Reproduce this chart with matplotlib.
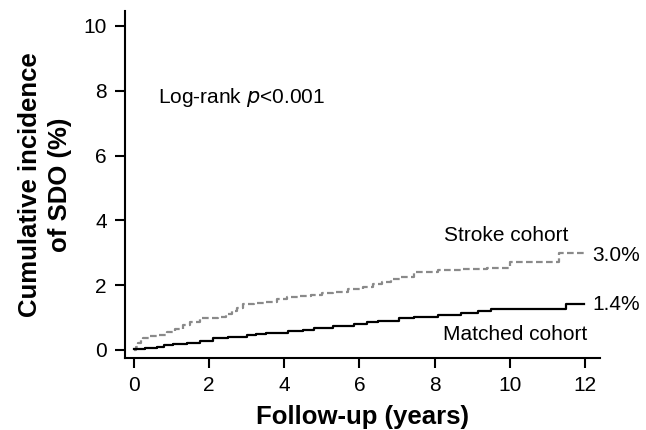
import numpy as np
import matplotlib
matplotlib.use("Agg")
import matplotlib.pyplot as plt

plt.rcParams['font.family'] = ['Liberation Sans', 'DejaVu Sans']

# step points (years, %)
stroke_t = [0, 0.05, 0.1, 0.18, 0.24, 0.4, 0.6, 0.88, 1.1, 1.3, 1.5, 1.76, 2.24, 2.45,
            2.6, 2.75, 2.9, 3.2, 3.5, 3.8, 4.08, 4.4, 4.7, 5.0, 5.3, 5.7, 6.1,
            6.35, 6.6, 6.85, 7.1, 7.45, 8.1, 8.7, 9.4, 10.0, 11.3, 11.97]
stroke_y = [0, 0.1, 0.2, 0.3, 0.37, 0.42, 0.47, 0.56, 0.66, 0.76, 0.86, 0.99, 1.02, 1.1,
            1.2, 1.3, 1.42, 1.45, 1.48, 1.56, 1.64, 1.67, 1.7, 1.75, 1.8, 1.88, 1.94,
            2.02, 2.1, 2.18, 2.25, 2.41, 2.47, 2.5, 2.53, 2.72, 2.98, 2.98]
matched_t = [0, 0.3, 0.6, 0.8, 1.05, 1.4, 1.76, 2.1, 2.5, 3.0, 3.25, 3.5, 4.1, 4.5,
             4.8, 5.3, 5.85, 6.2, 6.5, 7.05, 7.45, 8.1, 8.7, 9.15, 9.5, 11.5, 11.97]
matched_y = [0.04, 0.07, 0.1, 0.15, 0.19, 0.22, 0.26, 0.36, 0.4, 0.45, 0.5, 0.53, 0.58, 0.62,
             0.67, 0.73, 0.8, 0.85, 0.9, 0.99, 1.03, 1.08, 1.14, 1.2, 1.27, 1.42, 1.42]

fig = plt.figure(figsize=(6.46, 4.30), dpi=100)
ax = fig.add_axes([125/646, (430-358)/430, (600-125)/646, (358-11)/430])

ax.step(stroke_t, stroke_y, where='post', color='#8a8a8a', lw=1.6, dashes=(3, 1.5))
ax.step(matched_t, matched_y, where='post', color='black', lw=1.6)

ax.set_xlim(-0.24, 12.4)
ax.set_ylim(-0.25, 10.46)
ax.set_xticks(np.arange(0, 13, 2))
ax.set_yticks(np.arange(0, 11, 2))
for s in ['top', 'right']:
    ax.spines[s].set_visible(False)
for s in ['left', 'bottom']:
    ax.spines[s].set_linewidth(1.5)
ax.tick_params(direction='out', length=7, width=1.5, labelsize=15, pad=6)

ax.set_xlabel('Follow-up (years)', fontsize=18.5, fontweight='bold', labelpad=7)
ax.set_ylabel('Cumulative incidence\nof SDO (%)', fontsize=18.5, fontweight='bold',
              labelpad=8, linespacing=1.35)

ax.text(0.64, 7.8, 'Log-rank $\\it{p}$<0.001', fontsize=15, va='center')
ax.text(9.9, 3.52, 'Stroke cohort', fontsize=15, ha='center', va='center')
ax.text(10.15, 0.46, 'Matched cohort', fontsize=15, ha='center', va='center')
ax.text(12.2, 2.92, '3.0%', fontsize=15, va='center')
ax.text(12.2, 1.4, '1.4%', fontsize=15, va='center')

fig.savefig('out.png', dpi=100)
